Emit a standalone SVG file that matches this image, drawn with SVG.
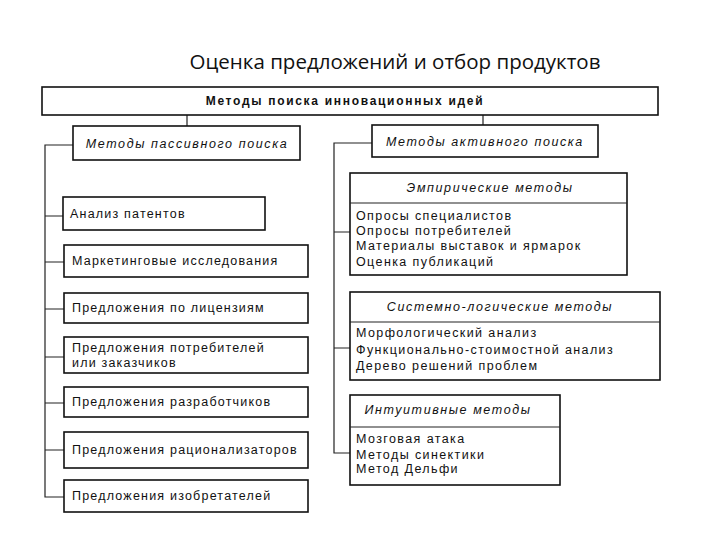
<svg xmlns="http://www.w3.org/2000/svg" width="720" height="540" viewBox="0 0 720 540">
<style>
.box{fill:#fff;stroke:#111;stroke-width:1.6}
.ln{fill:none;stroke:#222;stroke-width:1.2}
.t{font-family:"Liberation Sans",Arial,sans-serif;font-size:12.5px;fill:#111;letter-spacing:1.2px}
.b{font-weight:bold;font-size:12px;letter-spacing:1.7px}
.i{font-style:italic;letter-spacing:1.6px}
.r{letter-spacing:1.4px}
.ttl{font-family:"Open Sans","Liberation Sans",sans-serif;font-size:20.5px;fill:#111}
</style>
<rect width="720" height="540" fill="#fff"/>
<text class="ttl" x="395" y="69" text-anchor="middle">Оценка предложений и отбор продуктов</text>
<g id="connectors">
<path class="ln" d="M187 115V126M483 115V125"/>
<path class="ln" d="M73 145H45V497H64M45 216H63M45 262H64M45 309H64M45 357H64M45 403H64M45 450H64"/>
<path class="ln" d="M372 143H334V453H350M334 232H350M334 348H350"/>
</g>
<g id="top"><rect class="box" x="42" y="87" width="616" height="28"/><text class="t b" x="345" y="105" text-anchor="middle">Методы поиска инновационных идей</text></g>
<g id="passive"><rect class="box" x="73" y="126" width="227" height="34"/><text class="t i" x="187" y="148" text-anchor="middle">Методы пассивного поиска</text></g>
<g id="active"><rect class="box" x="372" y="125" width="226" height="32"/><text class="t i" x="485" y="146" text-anchor="middle">Методы активного поиска</text></g>
<g id="p1"><rect class="box" x="63" y="197" width="202" height="33"/><text class="t" x="70" y="218">Анализ патентов</text></g>
<g id="p2"><rect class="box" x="64" y="245" width="244" height="32"/><text class="t" x="72" y="265">Маркетинговые исследования</text></g>
<g id="p3"><rect class="box" x="64" y="293" width="244" height="30"/><text class="t" x="72" y="312">Предложения по лицензиям</text></g>
<g id="p4"><rect class="box" x="64" y="337" width="244" height="36"/><text class="t" x="72" y="352">Предложения потребителей</text><text class="t" x="72" y="367">или заказчиков</text></g>
<g id="p5"><rect class="box" x="64" y="387" width="244" height="30"/><text class="t" x="72" y="406">Предложения разработчиков</text></g>
<g id="p6"><rect class="box" x="64" y="432" width="244" height="36"/><text class="t" x="72" y="454">Предложения рационализаторов</text></g>
<g id="p7"><rect class="box" x="64" y="480" width="244" height="32"/><text class="t" x="72" y="500">Предложения изобретателей</text></g>
<g id="emp"><rect class="box" x="350" y="173" width="277" height="102"/><line class="ln" x1="350" y1="203" x2="627" y2="203"/><text class="t i" x="490" y="192" text-anchor="middle">Эмпирические методы</text>
<text class="t r" x="356" y="220">Опросы специалистов</text><text class="t r" x="356" y="235">Опросы потребителей</text><text class="t r" x="356" y="250">Материалы выставок и ярмарок</text><text class="t r" x="356" y="266">Оценка публикаций</text></g>
<g id="sys"><rect class="box" x="350" y="292" width="310" height="88"/><line class="ln" x1="350" y1="322" x2="660" y2="322"/><text class="t i" x="500" y="311" text-anchor="middle">Системно-логические методы</text>
<text class="t r" x="356" y="337">Морфологический анализ</text><text class="t r" x="356" y="354">Функционально-стоимостной анализ</text><text class="t r" x="356" y="370">Дерево решений проблем</text></g>
<g id="int"><rect class="box" x="350" y="395" width="210" height="90"/><line class="ln" x1="350" y1="427" x2="560" y2="427"/><text class="t i" x="448" y="414" text-anchor="middle">Интуитивные методы</text>
<text class="t r" x="356" y="443">Мозговая атака</text><text class="t r" x="356" y="459">Методы синектики</text><text class="t r" x="356" y="473">Метод Дельфи</text></g>
</svg>
